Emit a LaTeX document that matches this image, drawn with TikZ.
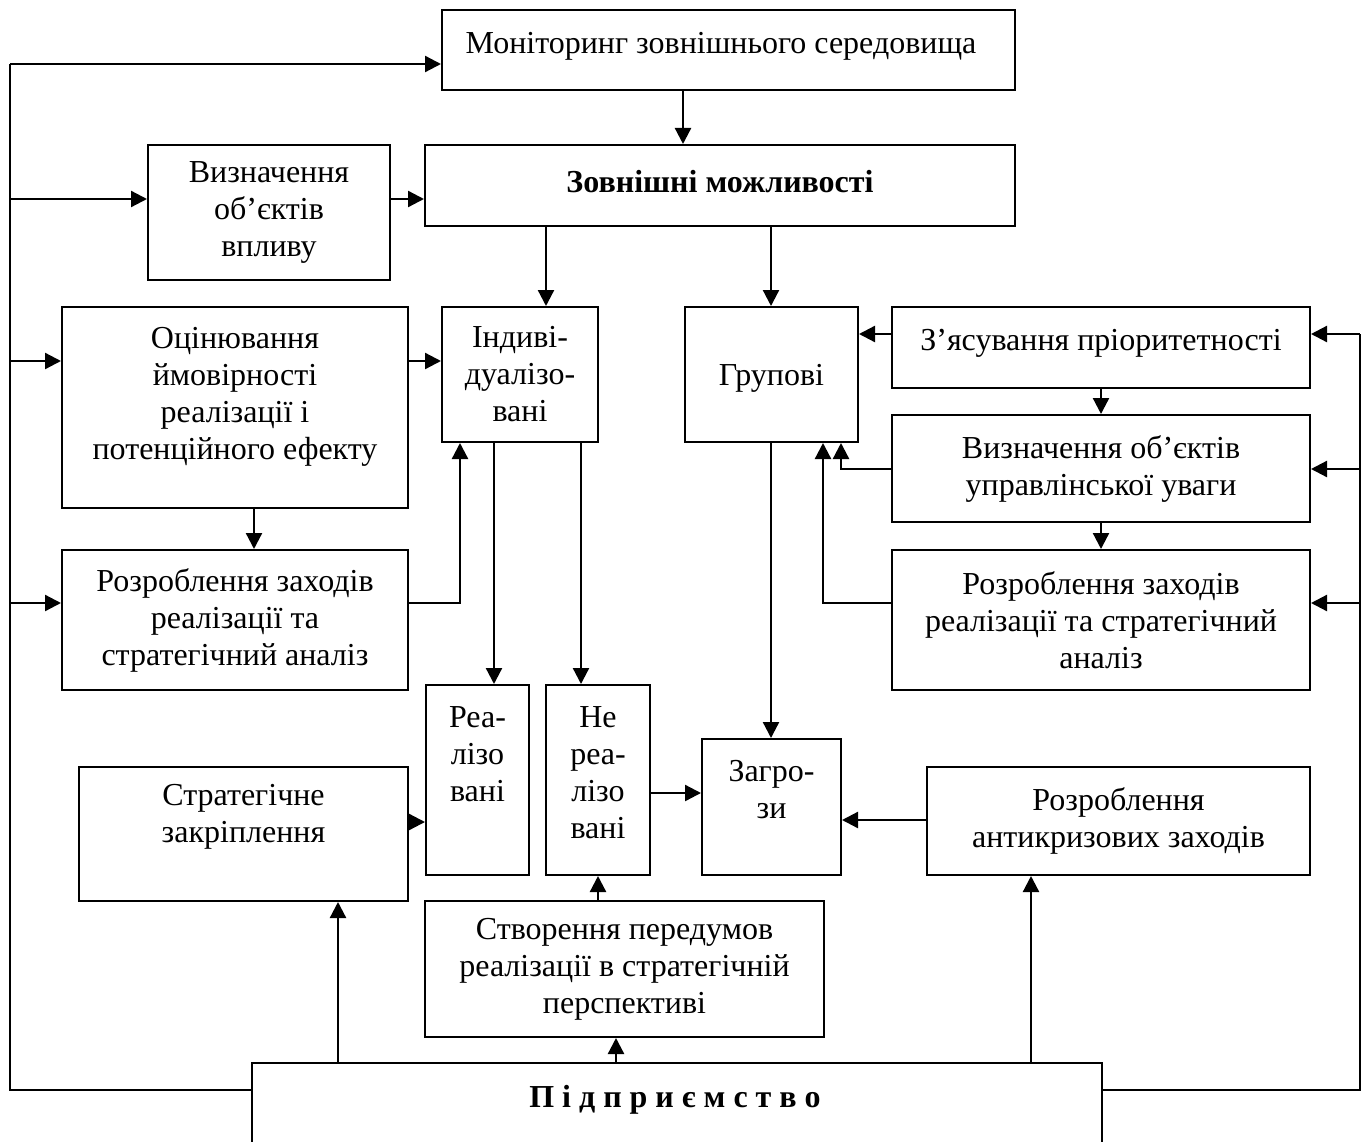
\documentclass[tikz,border=0pt]{standalone}
\usepackage{fontspec}
\setmainfont{Liberation Serif}
\usetikzlibrary{arrows.meta}
\begin{document}
\begin{tikzpicture}[x=1pt,y=-1pt,
  box/.style={draw, line width=2pt, inner sep=0pt, align=center,
              font=\fontsize{32}{37}\selectfont},
  txt/.style={inner sep=0pt, align=center, font=\fontsize{32}{37}\selectfont},
  wire/.style={line width=2.3pt},
  arr/.style={wire, -{Triangle[length=16pt,width=16pt]}}]
\clip (0,0) rectangle (1367,1142);

% ---- blocks ----
\node[box, minimum width=573, minimum height=80] (mon) at (728.5,50) {};
\node[txt] (mon-t) at (721,46) {Моніторинг зовнішнього середовища};
\node[box, minimum width=590, minimum height=81] (zovn) at (720,185.5) {};
\node[txt] (zovn-t) at (720,182) {\textbf{Зовнішні можливості}};
\node[box, minimum width=242, minimum height=135] (vyzn) at (269,212.5)
  {Визначення\\об’єктів\\впливу};
\node[box, minimum width=346, minimum height=201] (ocin) at (235,407.5) {};
\node[txt] (ocin-t) at (235,397)
  {Оцінювання\\ймовірності\\реалізації і\\потенційного ефекту};
\node[box, minimum width=156, minimum height=135] (indiv) at (520,374.5)
  {Індиві-\\дуалізо-\\вані};
\node[box, minimum width=173, minimum height=135] (grup) at (771.5,374.5) {};
\node[txt] (grup-t) at (771.5,378) {Групові};
\node[box, minimum width=418, minimum height=81] (zyas) at (1101,347.5) {};
\node[txt] (zyas-t) at (1101,343) {З’ясування пріоритетності};
\node[box, minimum width=418, minimum height=107] (vyzn2) at (1101,468.5)
  {Визначення об’єктів\\управлінської уваги};
\node[box, minimum width=418, minimum height=140] (rozr2) at (1101,620)
  {Розроблення заходів\\реалізації та стратегічний\\аналіз};
\node[box, minimum width=346, minimum height=140] (rozr1) at (235,620)
  {Розроблення заходів\\реалізації та\\стратегічний аналіз};
\node[box, minimum width=103, minimum height=190] (real) at (477.5,780) {};
\node[txt] (real-t) at (477.5,754) {Реа-\\лізо\\вані};
\node[box, minimum width=104, minimum height=190] (nereal) at (598,780) {};
\node[txt] (nereal-t) at (598,773) {Не\\реа-\\лізо\\вані};
\node[box, minimum width=139, minimum height=136] (zagr) at (771.5,807) {};
\node[txt] (zagr-t) at (771.5,790) {Загро-\\зи};
\node[box, minimum width=383, minimum height=108] (antykr) at (1118.5,821)
  {Розроблення\\антикризових заходів};
\node[box, minimum width=329, minimum height=134] (strat) at (243.5,834) {};
\node[txt] (strat-t) at (243.5,817) {Стратегічне\\закріплення};
\node[box, minimum width=399, minimum height=136] (stvor) at (624.5,969)
  {Створення передумов\\реалізації в стратегічній\\перспективі};
\node[box, minimum width=850, minimum height=100] (pidpr) at (677,1113) {};
\node[txt] (pidpr-t) at (675,1100) {\textbf{П і д п р и є м с т в о}};

% ---- routing levels ----
\coordinate (LB) at (10,1090);
\coordinate (LT) at (10,64);
\coordinate (RB) at (1360,1090);
\coordinate (RT) at (1360,334);
\coordinate (y199) at (0,199);
\coordinate (y361) at (0,361);
\coordinate (y603) at (0,603);
\coordinate (y469) at (0,469);
\coordinate (y793) at (0,793);
\coordinate (y820) at (0,820);
\coordinate (y822) at (0,822);
\coordinate (x683) at (683,0);
\coordinate (x546) at (546,0);
\coordinate (x771) at (771,0);
\coordinate (x254) at (254,0);
\coordinate (x460) at (460,0);
\coordinate (x494) at (494,0);
\coordinate (x581) at (581,0);
\coordinate (x841) at (841,0);
\coordinate (x823) at (823,0);
\coordinate (x338) at (338,0);
\coordinate (x616) at (616,0);
\coordinate (x1031) at (1031,0);

% ---- left feedback bus ----
\draw[wire] (pidpr.west |- LB) -- (LB) -- (LT);
\draw[arr] (LT) -- (mon.west |- LT);
\draw[arr] (LB |- y199) -- (vyzn.west |- y199);
\draw[arr] (LB |- y361) -- (ocin.west |- y361);
\draw[arr] (LB |- y603) -- (rozr1.west |- y603);

% ---- right feedback bus ----
\draw[wire] (pidpr.east |- RB) -- (RB) -- (RT);
\draw[arr] (RT) -- (zyas.east |- RT);
\draw[arr] (RB |- y469) -- (vyzn2.east |- y469);
\draw[arr] (RB |- y603) -- (rozr2.east |- y603);

% ---- upper part ----
\draw[arr] (mon.south -| x683) -- (zovn.north -| x683);
\draw[arr] (vyzn.east |- y199) -- (zovn.west |- y199);
\draw[arr] (zovn.south -| x546) -- (indiv.north -| x546);
\draw[arr] (zovn.south -| x771) -- (grup.north -| x771);

% ---- individualised branch ----
\draw[arr] (ocin.east |- y361) -- (indiv.west |- y361);
\draw[arr] (ocin.south -| x254) -- (rozr1.north -| x254);
\draw[arr] (rozr1.east |- y603) -| (indiv.south -| x460);
\draw[arr] (indiv.south -| x494) -- (real.north -| x494);
\draw[arr] (indiv.south -| x581) -- (nereal.north -| x581);

% ---- group branch ----
\draw[arr] (zyas.west |- RT) -- (grup.east |- RT);
\draw[arr] (zyas.south) -- (vyzn2.north);
\draw[arr] (vyzn2.south) -- (rozr2.north);
\draw[arr] (vyzn2.west |- y469) -| (grup.south -| x841);
\draw[arr] (rozr2.west |- y603) -| (grup.south -| x823);
\draw[arr] (grup.south -| x771) -- (zagr.north -| x771);

% ---- lower part ----
\draw[arr] (strat.east |- y822) -- (real.west |- y822);
\draw[arr] (nereal.east |- y793) -- (zagr.west |- y793);
\draw[arr] (antykr.west |- y820) -- (zagr.east |- y820);
\draw[arr] (stvor.north -| nereal.south) -- (nereal.south);
\draw[arr] (pidpr.north -| x338) -- (strat.south -| x338);
\draw[arr] (pidpr.north -| x616) -- (stvor.south -| x616);
\draw[arr] (pidpr.north -| x1031) -- (antykr.south -| x1031);
\end{tikzpicture}
\end{document}
